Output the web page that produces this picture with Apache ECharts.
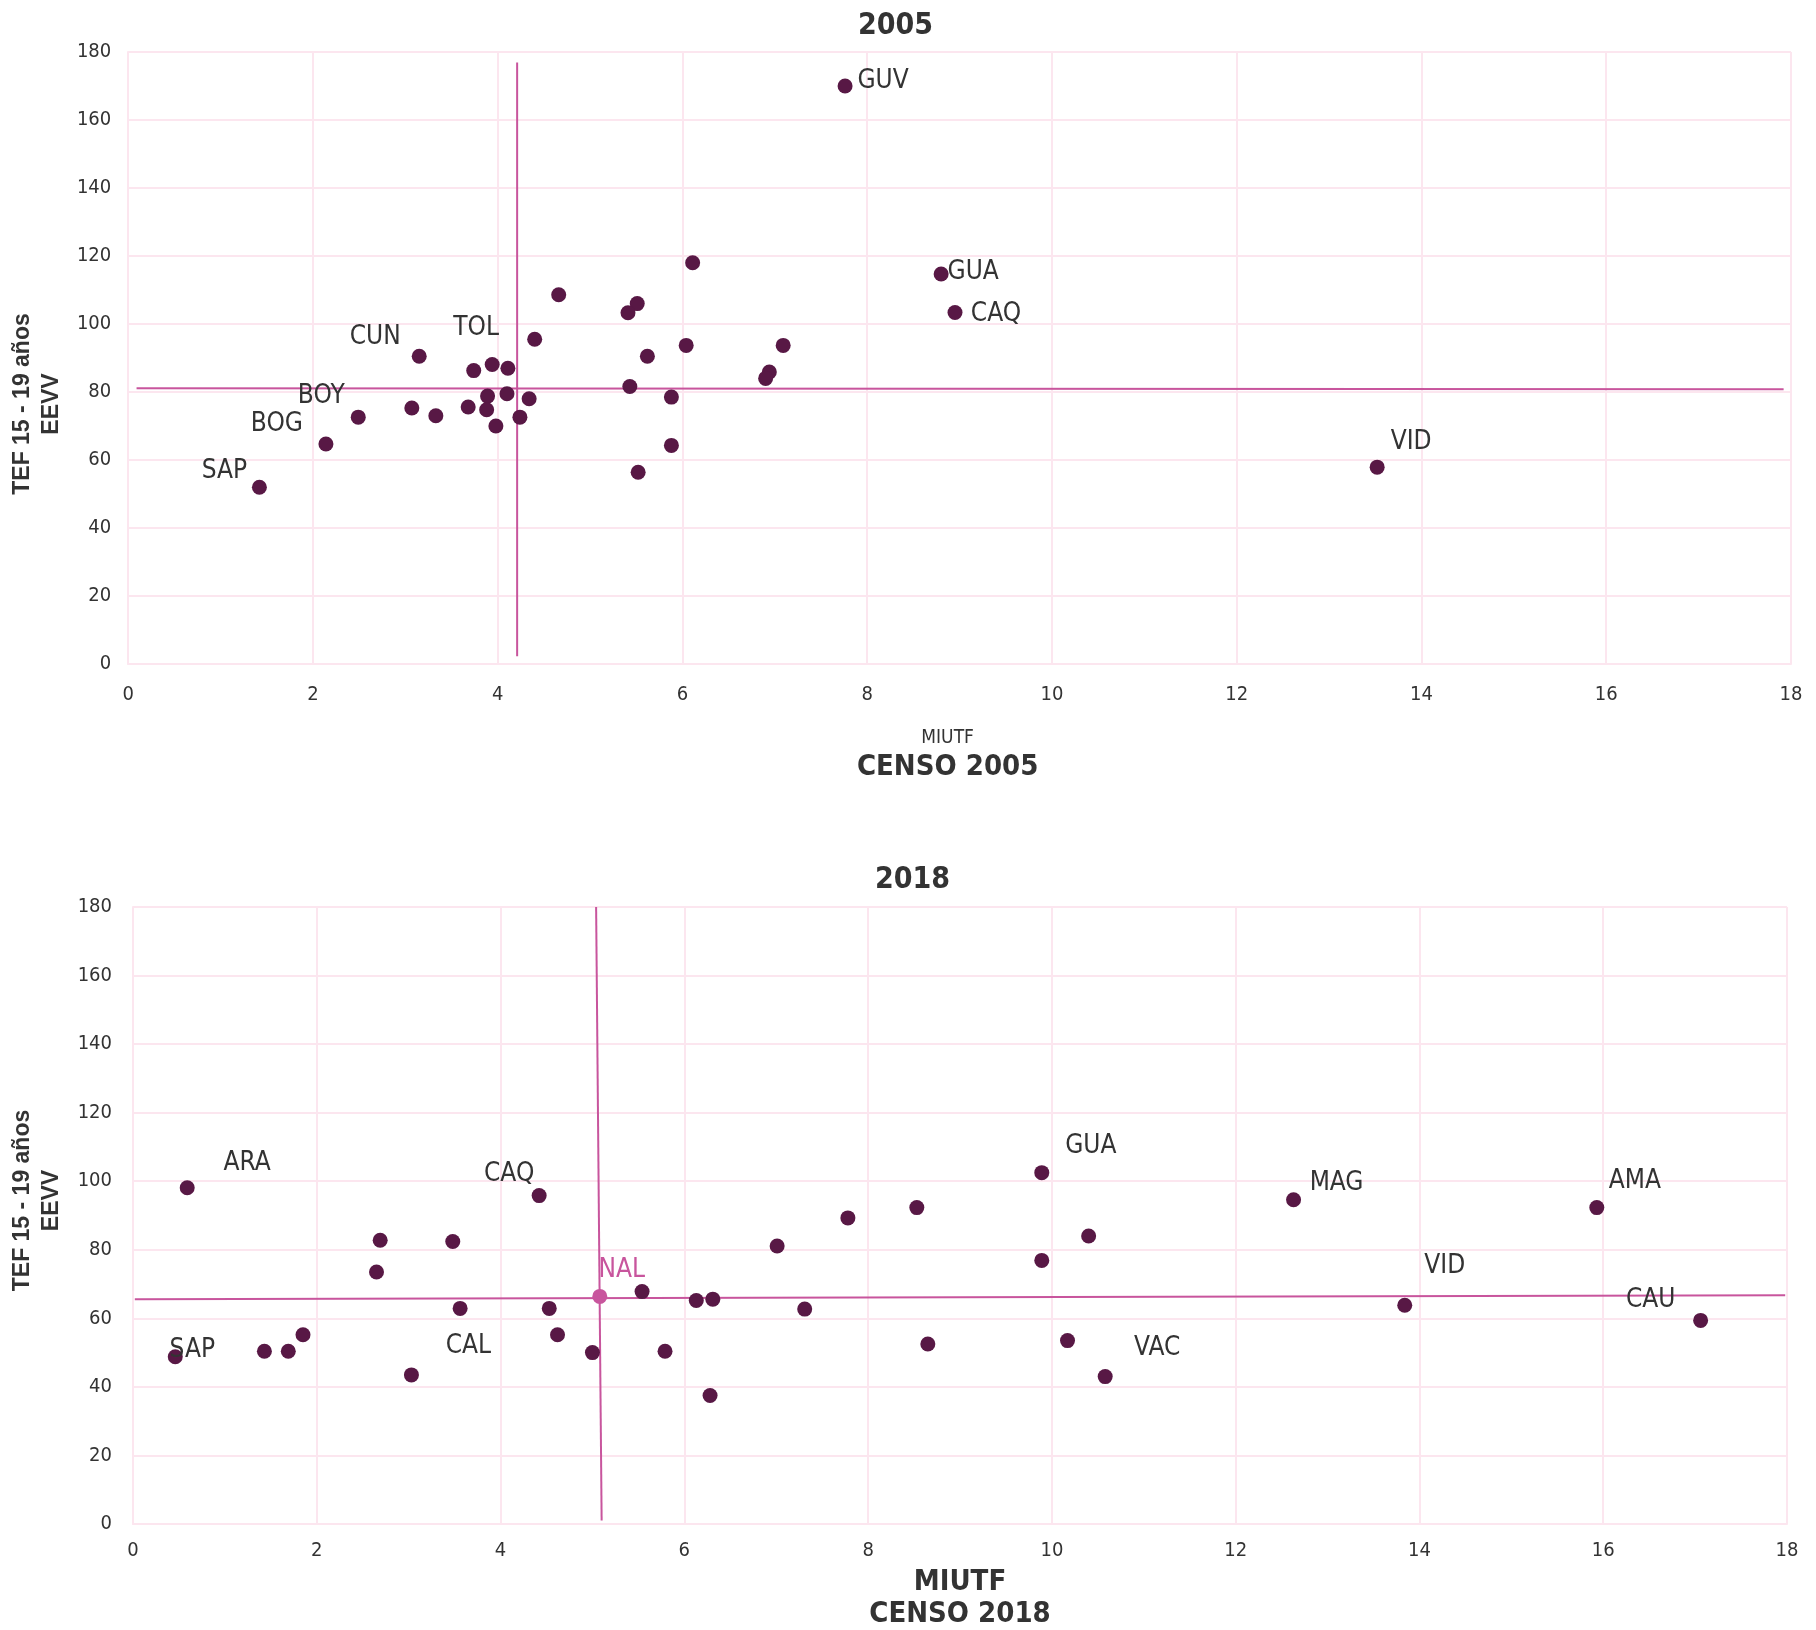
<!DOCTYPE html>
<html><head><meta charset="utf-8">
<script src="https://cdn.jsdelivr.net/npm/echarts@6/dist/echarts.min.js"></script>
<style>html,body{margin:0;padding:0;background:#fff}#c{width:1816px;height:1630px}</style>
</head><body><div id="c"></div>
<script>
// ---------- DATA ----------
const xTicks = [0, 2, 4, 6, 8, 10, 12, 14, 16, 18];
const yTicks = [0, 20, 40, 60, 80, 100, 120, 140, 160, 180];

// 2005: department code (empty = unlabeled), MIUTF (censo 2005), TEF 15-19 (EEVV)
const codes2005 = ['GUV','','','','','','CUN','','','','TOL','','','','','','','','','','BOY','','','','','','','BOG','','','SAP','GUA','CAQ','VID'];
const miutf2005 = [7.76,6.11,4.66,5.51,5.41,4.40,3.15,5.62,6.04,7.09,3.94,4.11,3.74,6.94,6.90,5.43,4.10,3.89,4.34,5.88,2.49,3.07,3.33,3.68,3.88,3.98,4.24,2.14,5.88,5.52,1.42,8.80,8.95,13.52];
const tef2005   = [170,118,108.6,106,103.3,95.5,90.5,90.5,93.7,93.7,88.1,87.0,86.3,85.9,84.0,81.6,79.5,78.8,78.0,78.5,72.6,75.3,73.0,75.6,74.8,70.0,72.6,64.7,64.3,56.4,52,114.7,103.4,57.9];
const nal2005 = [4.21, 81.0];
const nalHLine2005 = [[0.09, 81.1], [17.92, 80.8]];
const nalVLine2005 = [[4.21, 176.9], [4.21, 2.3]];

// 2018
const codes2018 = ['ARA','CAQ','','','','','GUA','','MAG','AMA','','','','','','','','','','','','','','CAL','','','','SAP','','','VAC','VID','CAU'];
const miutf2018 = [0.59,4.42,2.69,3.48,7.01,7.78,9.89,8.53,12.63,15.93,10.40,9.89,2.65,3.56,4.53,4.62,5.00,5.54,6.13,6.31,7.31,5.79,6.28,3.03,1.85,1.43,1.69,0.46,8.65,10.17,10.58,13.84,17.06];
const tef2018   = [98.1,95.8,82.8,82.4,81.1,89.3,102.5,92.3,94.6,92.3,84.0,76.9,73.5,62.9,62.9,55.2,50.0,67.8,65.2,65.6,62.7,50.4,37.5,43.5,55.2,50.4,50.4,48.8,52.5,53.5,43.0,63.8,59.4];
const nal2018 = [5.08, 66.4];
const nalHLine2018 = [[0.02, 65.6], [17.98, 66.7]];
const nalVLine2018 = [[5.04, 180], [5.10, 1.0]];

// ---------- STYLE ----------
const NARROW = "'Liberation Sans Narrow','Arial Narrow','DejaVu Sans Condensed',sans-serif";
const DOT = '#581845', PINK = '#c8559d', GRIDC = '#fce6ef', TXT = '#333333';
const labelOffsets2005 = {GUV:[38,-5], GUA:[32,-2], CAQ:[41,2], VID:[34,-25], CUN:[-44,-19], TOL:[-16,-36], BOY:[-37,-21], BOG:[-49,-20], SAP:[-35,-16]};
const labelOffsets2018 = {ARA:[60,-24], CAQ:[-30,-21], GUA:[49,-26], MAG:[43,-16], AMA:[38,-26], VID:[40,-39], CAU:[-50,-20], VAC:[52,-28], CAL:[57,-29], SAP:[17,-6]};

function pts(codes, xs, ys, offs) {
  return xs.map((x, i) => {
    const d = { value: [x, ys[i]], name: codes[i] };
    if (codes[i]) d.label = { show: true, position: 'inside', offset: offs[codes[i]], formatter: '{b}' };
    return d;
  });
}
function xAx(gi, margin, nameGap, name, pad) {
  return {
    type: 'value', gridIndex: gi, min: 0, max: 18, interval: 2,
    axisLine: { show: true, lineStyle: { color: GRIDC, width: 2 } },
    axisTick: { show: false },
    splitLine: { show: true, lineStyle: { color: GRIDC, width: 2 } },
    axisLabel: { color: TXT, fontFamily: NARROW, fontSize: 20, margin: margin,
      formatter: v => xTicks.includes(v) ? String(v) : '' },
    name: name, nameLocation: 'middle', nameGap: nameGap,
    nameTextStyle: { padding: pad, rich: {
      s: { fontFamily: NARROW, fontSize: 19, color: TXT, lineHeight: 26 },
      b: { fontFamily: NARROW, fontSize: 29, fontWeight: 'bold', color: TXT, lineHeight: 32 } } }
  };
}
function yAx(gi, margin, nameGap, pad) {
  return {
    type: 'value', gridIndex: gi, min: 0, max: 180, interval: 20,
    axisLine: { show: true, lineStyle: { color: GRIDC, width: 2 } },
    axisTick: { show: false },
    splitLine: { show: true, lineStyle: { color: GRIDC, width: 2 } },
    axisLabel: { color: TXT, fontFamily: NARROW, fontSize: 20, margin: margin,
      formatter: v => yTicks.includes(v) ? String(v) : '' },
    name: 'TEF 15 - 19 años\nEEVV', nameLocation: 'middle', nameGap: nameGap,
    nameTextStyle: { fontFamily: "'Liberation Sans',Arial,sans-serif", fontWeight: 'bold', fontSize: 23,
      color: TXT, lineHeight: 29, padding: pad }
  };
}
function refLine(data, xi, yi) {
  return { type: 'line', xAxisIndex: xi, yAxisIndex: yi, data: data, symbol: 'none', silent: true,
    lineStyle: { color: PINK, width: 2 }, z: 2, clip: false };
}
const scatterLabel = { color: TXT, fontFamily: NARROW, fontSize: 26 };

const chart = echarts.init(document.getElementById('c'), null, { renderer: 'canvas' });
chart.setOption({
  animation: false,
  backgroundColor: '#ffffff',
  title: [
    { text: '2005', left: 853, top: 6, textStyle: { fontFamily: NARROW, fontSize: 30, fontWeight: 'bold', color: TXT } },
    { text: '2018', left: 870, top: 860, textStyle: { fontFamily: NARROW, fontSize: 30, fontWeight: 'bold', color: TXT } }
  ],
  grid: [
    { left: 124.5, top: 52, width: 1666.5, height: 612 },
    { left: 133, top: 907, width: 1654, height: 617 }
  ],
  xAxis: [
    xAx(0, 21, 61, '{s|MIUTF}\n{b|CENSO 2005}', [0, 24, 0, 0]),
    xAx(1, 17, 42, '{b|MIUTF}\n{b|CENSO 2018}', [0, 0, 0, 0])
  ],
  yAxis: [
    yAx(0, 17, 60, [0, 92, 0, 0]),
    yAx(1, 21, 67, [0, 0, 0, 30])
  ],
  series: [
    refLine(nalHLine2005, 0, 0),
    refLine(nalVLine2005, 0, 0),
    { type: 'scatter', xAxisIndex: 0, yAxisIndex: 0, symbolSize: 15, z: 3,
      itemStyle: { color: DOT, opacity: 1 }, label: scatterLabel,
      data: pts(codes2005, miutf2005, tef2005, labelOffsets2005) },
    { type: 'scatter', xAxisIndex: 0, yAxisIndex: 0, symbolSize: 0, z: 4,
      itemStyle: { color: PINK, opacity: 0 },
      label: { show: true, position: 'inside', offset: [32, -35], formatter: 'NAL', color: PINK, fontFamily: NARROW, fontSize: 26 },
      data: [{ value: nal2005, name: 'NAL' }] },

    refLine(nalHLine2018, 1, 1),
    refLine(nalVLine2018, 1, 1),
    { type: 'scatter', xAxisIndex: 1, yAxisIndex: 1, symbolSize: 15, z: 3,
      itemStyle: { color: DOT, opacity: 1 }, label: scatterLabel,
      data: pts(codes2018, miutf2018, tef2018, labelOffsets2018) },
    { type: 'scatter', xAxisIndex: 1, yAxisIndex: 1, symbolSize: 15, z: 4,
      itemStyle: { color: PINK, opacity: 1 },
      label: { show: true, position: 'inside', offset: [22, -26], formatter: 'NAL', color: PINK, fontFamily: NARROW, fontSize: 26 },
      data: [{ value: nal2018, name: 'NAL' }] }
  ]
});
</script></body></html>
